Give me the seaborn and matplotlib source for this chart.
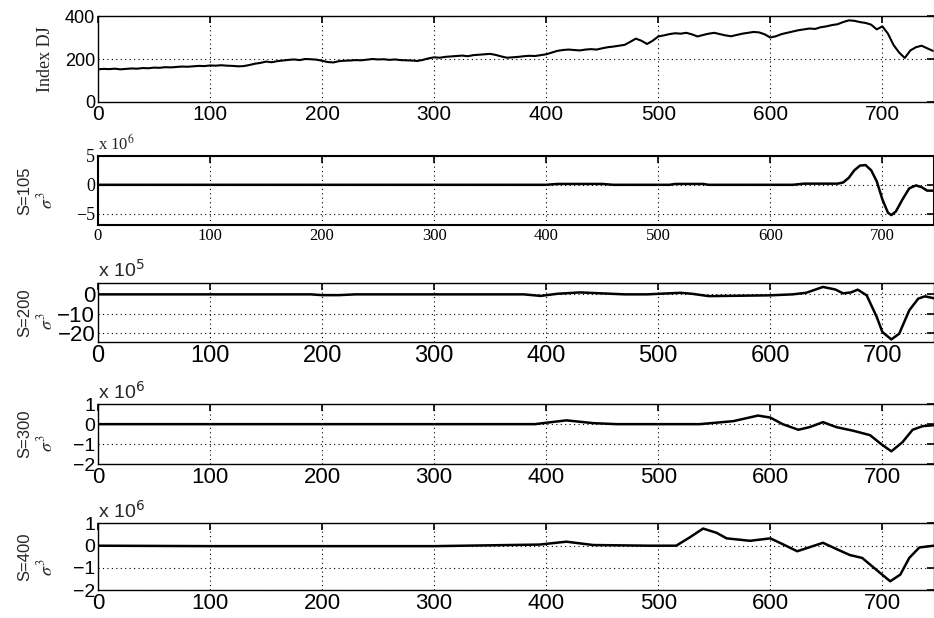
import matplotlib
matplotlib.use('Agg')
import pandas as pd
import matplotlib.pyplot as plt
import seaborn as sns

# Dow Jones index (step 5)
dj_x = list(range(0, 750, 5))
dj_y = [152, 154, 153, 155, 152, 154, 156, 155, 158, 157, 160, 159, 162, 161, 163, 165, 164, 166, 168, 167,
        170, 169, 171, 169, 168, 166, 167, 172, 178, 182, 188, 185, 190, 193, 196, 198, 195, 200, 199, 197,
        192, 186, 184, 190, 192, 193, 195, 194, 197, 200, 198, 199, 196, 198, 195, 194, 193, 191, 196, 203,
        208, 206, 210, 212, 214, 216, 213, 218, 220, 222, 224, 219, 212, 206, 208, 210, 213, 215, 214, 218,
        222, 230, 238, 242, 244, 242, 240, 244, 246, 244, 250, 255, 258, 262, 266, 280, 295, 285, 270, 285,
        305, 310, 316, 320, 318, 322, 315, 305, 312, 318, 322, 316, 310, 306, 312, 318, 322, 326, 324, 315,
        300, 306, 316, 322, 328, 334, 338, 342, 340, 348, 352, 358, 362, 372, 380, 378, 372, 368, 360, 338,
        352, 318, 265, 230, 205, 240, 255, 262, 250, 238]

# sigma^3, S=105 (x 10^6)
s105_x = [0, 100, 200, 300, 400, 410, 450, 460, 510, 515, 540, 545, 620, 630, 660, 665, 670, 675, 680,
          685, 690, 695, 700, 705, 708, 712, 718, 724, 730, 735, 740, 746]
s105_y = [0, 0, 0, 0, 0, 0.15, 0.15, 0, 0, 0.15, 0.15, 0, 0, 0.2, 0.2, 0.4, 1.2, 2.5, 3.3,
          3.4, 2.5, 0.6, -2.5, -4.8, -5.2, -4.6, -2.5, -0.6, -0.1, -0.4, -1.0, -1.0]

# sigma^3, S=200 (x 10^5)
s200_x = [0, 190, 200, 215, 230, 380, 395, 410, 430, 450, 470, 490, 520, 530, 545, 560, 600, 620, 632,
          647, 658, 665, 672, 678, 686, 695, 700, 708, 715, 724, 732, 738, 746]
s200_y = [0, 0, -0.4, -0.4, 0, 0, -0.8, 0.3, 1.0, 0.5, 0, 0, 0.8, 0.3, -0.9, -0.8, -0.5, 0, 0.8,
          3.8, 2.5, 0.5, 1.0, 2.4, -0.5, -11.6, -19.3, -23.1, -20.2, -8.2, -2.2, -1.0, -2.0]

# sigma^3, S=300 (x 10^6)
s300_x = [0, 390, 397, 418, 442, 463, 537, 567, 589, 600, 611, 625, 635, 647, 659, 674, 689, 699, 708,
          718, 727, 736, 746]
s300_y = [0, 0, 0.05, 0.19, 0.05, 0, 0, 0.15, 0.43, 0.33, 0, -0.28, -0.15, 0.1, -0.15, -0.33, -0.55,
          -1.0, -1.36, -0.9, -0.28, -0.1, -0.05]

# sigma^3, S=400 (x 10^6)
s400_x = [0, 100, 300, 394, 418, 442, 492, 516, 528, 540, 552, 561, 582, 600, 611, 624, 635, 647, 659,
          671, 682, 695, 707, 716, 724, 733, 746]
s400_y = [0, -0.02, -0.02, 0.05, 0.18, 0.03, 0, 0, 0.37, 0.77, 0.58, 0.33, 0.22, 0.33, 0.07, -0.25,
          -0.07, 0.13, -0.15, -0.42, -0.55, -1.1, -1.6, -1.3, -0.55, -0.08, 0]

x_ticks = [0, 100, 200, 300, 400, 500, 600, 700]

sns.set_style('white')
plt.rcParams['font.family'] = ['Liberation Sans', 'DejaVu Sans']
plt.rcParams['mathtext.fontset'] = 'stix'

SERIF = ['Liberation Serif', 'DejaVu Serif']

fig = plt.figure(figsize=(9.34, 6.18), dpi=100)
L, W = 0.1049, 0.895

panels = [
    dict(x=dj_x, y=dj_y, pos=[L, 0.835, W, 0.139], ylim=(0, 400), yticks=[0, 200, 400],
         lw=1.5, xfs=15, yfs=13, tickfam=None, label='Index DJ', exp=None),
    dict(x=s105_x, y=s105_y, pos=[L, 0.636, W, 0.112], ylim=(-6.9, 5), yticks=[-5, 0, 5],
         lw=1.8, xfs=12, yfs=13, tickfam=SERIF, label='S=105', exp='6'),
    dict(x=s200_x, y=s200_y, pos=[L, 0.447, W, 0.095], ylim=(-24.3, 5.8), yticks=[-20, -10, 0],
         lw=1.8, xfs=17, yfs=16, tickfam=None, label='S=200', exp='5'),
    dict(x=s300_x, y=s300_y, pos=[L, 0.249, W, 0.097], ylim=(-2, 1), yticks=[-2, -1, 0, 1],
         lw=1.8, xfs=16, yfs=14, tickfam=None, label='S=300', exp='6'),
    dict(x=s400_x, y=s400_y, pos=[L, 0.045, W, 0.108], ylim=(-2, 1), yticks=[-2, -1, 0, 1],
         lw=1.8, xfs=16, yfs=14, tickfam=None, label='S=400', exp='6'),
]

for i, p in enumerate(panels):
    ax = fig.add_axes(p['pos'])
    df = pd.DataFrame({'x': p['x'], 'y': p['y']})
    sns.lineplot(data=df, x='x', y='y', ax=ax, color='black', linewidth=p['lw'])
    ax.set_xlim(0, 746)
    ax.set_ylim(*p['ylim'])
    ax.set_xticks(x_ticks)
    ax.set_yticks(p['yticks'])
    ax.set_xlabel('')
    ax.set_ylabel('')
    ax.grid(True, color='black', linestyle=(0, (1, 3)), linewidth=0.8)
    ax.tick_params(direction='in', length=5, width=1.2, top=True, right=True, pad=2, colors='black')
    for lab in ax.get_xticklabels():
        lab.set_fontsize(p['xfs'])
        if p['tickfam']:
            lab.set_family(p['tickfam'])
    for lab in ax.get_yticklabels():
        lab.set_fontsize(p['yfs'])
        if p['tickfam']:
            lab.set_family(p['tickfam'])
    for s in ax.spines.values():
        s.set_color('black')
        s.set_linewidth(1.5 if i == 1 else 1.0)

    if i == 0:
        ax.text(-0.063, 0.5, p['label'], transform=ax.transAxes, rotation=90,
                ha='center', va='center', fontsize=13, family=SERIF)
    else:
        ax.text(-0.088, 0.5, p['label'], transform=ax.transAxes, rotation=90,
                ha='center', va='center', fontsize=12)
        ax.text(-0.062, 0.35, r'$\sigma^3$', transform=ax.transAxes, rotation=90,
                ha='center', va='center', fontsize=13)
        if i == 1:
            ax.text(0.0, 1.03, r'x 10$^{%s}$' % p['exp'], transform=ax.transAxes,
                    ha='left', va='bottom', fontsize=12, family=SERIF)
        else:
            ax.text(0.0, 1.03, r'x 10$^{%s}$' % p['exp'], transform=ax.transAxes,
                    ha='left', va='bottom', fontsize=14, math_fontfamily='dejavusans')

fig.savefig('out.png', dpi=100)
